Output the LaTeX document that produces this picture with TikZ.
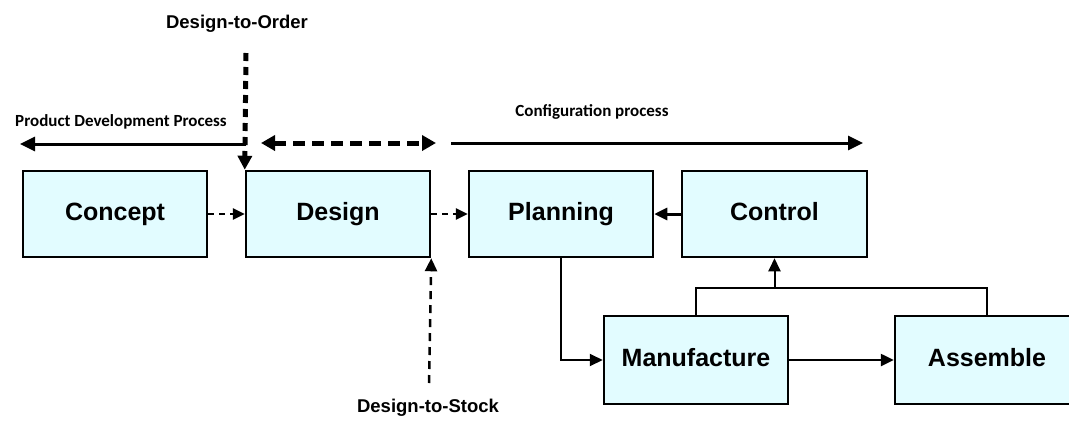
\documentclass[tikz,border=0pt]{standalone}
\usepackage{fontspec}
\setmainfont{Liberation Sans}
\newfontfamily\calibri{Carlito}
\usetikzlibrary{arrows.meta}
\definecolor{boxfill}{RGB}{226,252,255}

\begin{document}
\begin{tikzpicture}[x=1pt,y=-1pt,>={Triangle[length=13pt,width=12pt]},
            main node/.style={rectangle,draw,line width=2.5pt,fill=boxfill,
              minimum width=184pt,minimum height=86pt,
              text height=18pt,text depth=5pt,
              font=\fontsize{25}{30}\selectfont\bfseries},
            tag node/.style={font=\fontsize{18.5}{22}\selectfont\bfseries},
            phase node/.style={font=\calibri\fontsize{17}{20}\selectfont\bfseries}]

        \path[use as bounding box,clip] (0,0) rectangle (1069,421);

        % Define vertices
        \node[main node] (concept) at (115,214) {Concept};
        \node[main node] (design) at (338,214) {Design};
        \node[main node] (planning) at (561,214) {Planning};
        \node[main node,minimum width=185pt] (control) at (774.5,214) {Control};
        \node[main node,minimum height=88pt] (manufacture) at (696,360) {Manufacture};
        \node[main node,minimum height=88pt] (assemble) at (987,360) {Assemble};

        % Labels
        \node[tag node] (dto) at (237,24) {Design-to-Order};
        \node[tag node] (dts) at (428,408) {Design-to-Stock};
        \node[phase node] (pdp) at (121,122) {Product Development Process};
        \node[phase node] (conf) at (592,112) {Configuration process};

        % Free ends
        \coordinate (dto top) at (246,53);
        \coordinate (dts low) at (429,383);
        \coordinate (pdp start) at (246,144);
        \coordinate (pdp end) at (20,144);
        \coordinate (design left) at (261,143);
        \coordinate (design right) at (436,143);
        \coordinate (conf start) at (451,143);
        \coordinate (conf end) at (863,143);
        \coordinate (bus) at (control.south |- 0,288);

        % Draw edges
        \draw[->,line width=2.5pt,dash pattern=on 6pt off 5pt,
              >={Triangle[length=12pt,width=11pt]}]
            (concept) -- (design);
        \draw[->,line width=2.5pt,dash pattern=on 6pt off 5pt,
              >={Triangle[length=12pt,width=11pt]}]
            (design) -- (planning);
        \draw[->,line width=3pt] (control) -- (planning);
        \draw[->,line width=2pt] (planning.south) |- (manufacture.west);
        \draw[->,line width=2.5pt] (manufacture) -- (assemble);
        \draw[line width=2pt] (manufacture.north) |- (bus) -| (assemble.north);
        \draw[->,line width=2pt] (bus) -- (control.south);

        % Process ranges
        \draw[->,line width=3pt,>={Triangle[length=15pt,width=14pt]}]
            (pdp start) -- (pdp end);
        \draw[<->,line width=5pt,dash pattern=on 12pt off 7pt,
              >={Triangle[length=14pt,width=15pt]}]
            (design left) -- (design right);
        \draw[->,line width=3pt,>={Triangle[length=15pt,width=14pt]}]
            (conf start) -- (conf end);

        % Order points
        \draw[->,line width=5pt,dash pattern=on 8pt off 6pt,
              >={Triangle[length=14pt,width=14pt]}]
            (dto top) -- (design.north west);
        \draw[->,line width=2.5pt,dash pattern=on 8pt off 6pt,
              >={Triangle[length=13pt,width=12pt]}]
            (dts low) -- (design.south east);

\end{tikzpicture}
\end{document}
